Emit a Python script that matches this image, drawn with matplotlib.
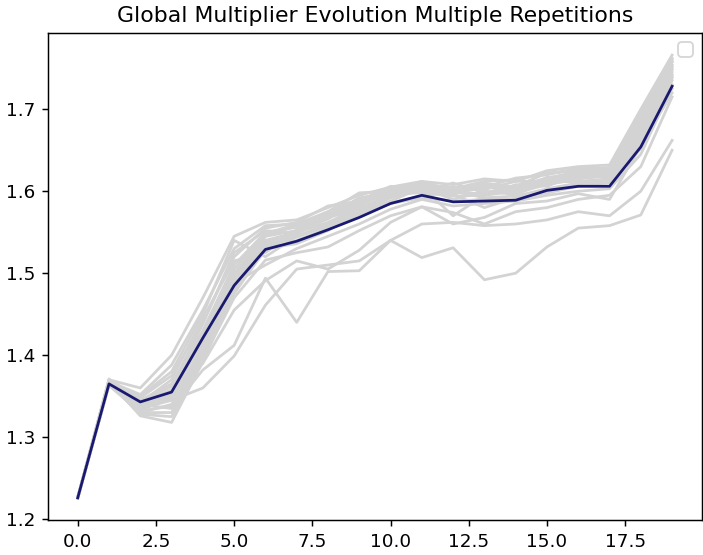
import matplotlib
matplotlib.use("Agg")
import matplotlib.pyplot as plt

# iteration index shared by every run
steps = list(range(20))

# per-repetition global multiplier traces
runs = [
    [1.226, 1.370, 1.360, 1.400, 1.470, 1.545, 1.562, 1.565, 1.580, 1.595, 1.605, 1.612, 1.608, 1.615, 1.612, 1.625, 1.630, 1.632, 1.700, 1.766],
    [1.226, 1.368, 1.352, 1.388, 1.455, 1.530, 1.558, 1.560, 1.575, 1.598, 1.600, 1.610, 1.602, 1.605, 1.616, 1.620, 1.628, 1.628, 1.690, 1.762],
    [1.226, 1.366, 1.348, 1.375, 1.440, 1.520, 1.555, 1.562, 1.582, 1.588, 1.606, 1.600, 1.610, 1.598, 1.606, 1.622, 1.625, 1.626, 1.685, 1.758],
    [1.226, 1.371, 1.345, 1.365, 1.430, 1.510, 1.550, 1.556, 1.570, 1.592, 1.598, 1.612, 1.598, 1.610, 1.604, 1.615, 1.622, 1.624, 1.680, 1.754],
    [1.226, 1.369, 1.340, 1.358, 1.425, 1.505, 1.548, 1.560, 1.572, 1.585, 1.603, 1.606, 1.605, 1.602, 1.612, 1.612, 1.620, 1.622, 1.675, 1.750],
    [1.226, 1.367, 1.338, 1.350, 1.418, 1.500, 1.545, 1.552, 1.566, 1.590, 1.594, 1.600, 1.596, 1.608, 1.600, 1.617, 1.618, 1.620, 1.670, 1.745],
    [1.226, 1.365, 1.335, 1.345, 1.410, 1.495, 1.540, 1.550, 1.562, 1.580, 1.592, 1.603, 1.604, 1.606, 1.598, 1.608, 1.615, 1.619, 1.665, 1.742],
    [1.226, 1.364, 1.332, 1.338, 1.405, 1.490, 1.538, 1.548, 1.568, 1.578, 1.597, 1.598, 1.594, 1.595, 1.608, 1.606, 1.621, 1.616, 1.662, 1.738],
    [1.226, 1.363, 1.330, 1.330, 1.400, 1.485, 1.535, 1.545, 1.560, 1.575, 1.588, 1.604, 1.590, 1.600, 1.596, 1.611, 1.612, 1.615, 1.658, 1.735],
    [1.226, 1.366, 1.328, 1.325, 1.395, 1.480, 1.532, 1.544, 1.558, 1.572, 1.586, 1.594, 1.600, 1.592, 1.594, 1.603, 1.610, 1.612, 1.655, 1.730],
    [1.226, 1.368, 1.326, 1.318, 1.392, 1.478, 1.528, 1.540, 1.555, 1.570, 1.585, 1.592, 1.588, 1.590, 1.590, 1.601, 1.608, 1.610, 1.652, 1.725],
    [1.226, 1.370, 1.343, 1.362, 1.438, 1.525, 1.552, 1.548, 1.568, 1.582, 1.600, 1.605, 1.570, 1.595, 1.600, 1.614, 1.618, 1.621, 1.672, 1.752],
    [1.226, 1.365, 1.350, 1.380, 1.450, 1.540, 1.520, 1.545, 1.560, 1.578, 1.594, 1.600, 1.598, 1.604, 1.606, 1.616, 1.624, 1.627, 1.695, 1.760],
    [1.226, 1.369, 1.337, 1.355, 1.415, 1.496, 1.545, 1.558, 1.575, 1.590, 1.602, 1.610, 1.603, 1.612, 1.614, 1.622, 1.626, 1.629, 1.682, 1.757],
    [1.226, 1.367, 1.333, 1.348, 1.402, 1.475, 1.530, 1.536, 1.552, 1.575, 1.592, 1.607, 1.596, 1.580, 1.592, 1.598, 1.606, 1.612, 1.660, 1.740],
    [1.226, 1.366, 1.342, 1.370, 1.445, 1.515, 1.525, 1.553, 1.570, 1.586, 1.598, 1.601, 1.600, 1.596, 1.603, 1.609, 1.617, 1.618, 1.668, 1.748],
    [1.226, 1.366, 1.340, 1.335, 1.382, 1.412, 1.494, 1.440, 1.502, 1.503, 1.540, 1.519, 1.531, 1.492, 1.500, 1.532, 1.555, 1.558, 1.571, 1.650],
    [1.226, 1.364, 1.345, 1.345, 1.360, 1.399, 1.461, 1.505, 1.510, 1.515, 1.540, 1.560, 1.562, 1.558, 1.560, 1.565, 1.575, 1.570, 1.600, 1.662],
    [1.226, 1.368, 1.336, 1.352, 1.390, 1.455, 1.491, 1.515, 1.505, 1.528, 1.562, 1.581, 1.574, 1.560, 1.575, 1.580, 1.590, 1.595, 1.630, 1.715],
    [1.226, 1.365, 1.330, 1.340, 1.395, 1.470, 1.516, 1.525, 1.532, 1.552, 1.570, 1.581, 1.560, 1.568, 1.585, 1.588, 1.597, 1.590, 1.655, 1.720],
    [1.226, 1.367, 1.344, 1.356, 1.420, 1.488, 1.510, 1.530, 1.545, 1.560, 1.578, 1.590, 1.582, 1.585, 1.588, 1.595, 1.600, 1.603, 1.645, 1.728],
]

# average over repetitions
mean_run = [1.226, 1.365, 1.343, 1.355, 1.421, 1.485, 1.529, 1.539, 1.553, 1.568, 1.585, 1.595,
            1.587, 1.588, 1.589, 1.601, 1.606, 1.606, 1.654, 1.728]

plt.rcParams["font.family"] = "DejaVu Sans"

DPI = 132
fig = plt.figure(figsize=(703 / DPI, 555 / DPI), dpi=DPI)
ax = fig.add_axes([0.0683, 0.0631, 0.930, 0.8775])

for r in runs:
    ax.plot(steps, r, color="lightgray", linewidth=1.5)
ax.plot(steps, mean_run, color="midnightblue", linewidth=1.5)

ax.set_title("Global Multiplier Evolution Multiple Repetitions")
ax.legend(handles=[], loc="upper right")

fig.savefig("out.png", dpi=DPI)
